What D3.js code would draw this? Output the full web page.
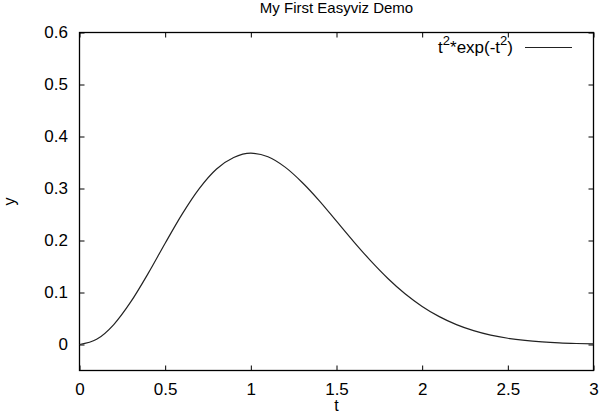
<!DOCTYPE html>
<html>
<head>
<meta charset="utf-8">
<script src="https://cdn.jsdelivr.net/npm/d3@7"></script>
<style>
  body { margin: 0; background: #fff; }
  svg { display: block; }
  text { font-family: "Liberation Sans", Arial, Helvetica, sans-serif; fill: #000; }
</style>
</head>
<body>
<svg id="chart" width="601" height="416"></svg>
<script>
// Data
const tValues = [0, 0.1, 0.2, 0.3, 0.4, 0.5, 0.6, 0.7, 0.8, 0.9, 1.0,
                 1.1, 1.2, 1.3, 1.4, 1.5, 1.6, 1.7, 1.8, 1.9, 2.0,
                 2.1, 2.2, 2.3, 2.4, 2.5, 2.6, 2.7, 2.8, 2.9, 3.0];
const yValues = [0, 0.0099, 0.0384, 0.0823, 0.1363, 0.1947, 0.2512, 0.3002, 0.3375, 0.3595, 0.3679,
                 0.3611, 0.3411, 0.3116, 0.2763, 0.2371, 0.1980, 0.1608, 0.1270, 0.0976, 0.0733,
                 0.0536, 0.0383, 0.0267, 0.0181, 0.0120, 0.0078, 0.0050, 0.0031, 0.0019, 0.0011];
const xTicks = [0, 0.5, 1, 1.5, 2, 2.5, 3];
const xTickLabels = ["0", "0.5", "1", "1.5", "2", "2.5", "3"];
const yTicks = [0, 0.1, 0.2, 0.3, 0.4, 0.5, 0.6];
const yTickLabels = ["0", "0.1", "0.2", "0.3", "0.4", "0.5", "0.6"];
const titleText = "My First Easyviz Demo";
const xLabel = "t";
const yLabel = "y";

const svg = d3.select("#chart");
const mLeft = 79.5, mRight = 593.5, mTop = 32.5, mBottom = 370.5;

const x = d3.scaleLinear().domain([0, 3]).range([mLeft, mRight]);
const y = d3.scaleLinear().domain([-0.05, 0.6]).range([mBottom, mTop]);

const tickLen = 5;
const fs = 17;

// axes (gnuplot style: inward ticks mirrored)
const axB = d3.axisBottom(x).tickValues(xTicks).tickSizeInner(-tickLen).tickSizeOuter(0)
  .tickFormat((d, i) => xTickLabels[i]).tickPadding(12);
const axT = d3.axisTop(x).tickValues(xTicks).tickSizeInner(-tickLen).tickSizeOuter(0).tickFormat("");
const axL = d3.axisLeft(y).tickValues(yTicks).tickSizeInner(-tickLen).tickSizeOuter(0)
  .tickFormat((d, i) => yTickLabels[i]).tickPadding(11.5);
const axR = d3.axisRight(y).tickValues(yTicks).tickSizeInner(-tickLen).tickSizeOuter(0).tickFormat("");

function style(g) {
  g.select(".domain").remove();
  g.selectAll("line").attr("stroke", "#000").attr("stroke-width", 1);
  g.selectAll("text").attr("font-size", fs).attr("font-family", "Liberation Sans, Arial, sans-serif").attr("fill", "#000");
}
svg.append("g").attr("transform", `translate(0,${mBottom})`).call(axB).call(style);
svg.append("g").attr("transform", `translate(0,${mTop})`).call(axT).call(style);
svg.append("g").attr("transform", `translate(${mLeft},0)`).call(axL).call(style);
svg.append("g").attr("transform", `translate(${mRight},0)`).call(axR).call(style);

// frame
svg.append("rect").attr("x", mLeft).attr("y", mTop)
  .attr("width", mRight - mLeft).attr("height", mBottom - mTop)
  .attr("fill", "none").attr("stroke", "#000").attr("stroke-width", 1.3);

// curve
const pts = tValues.map((t, i) => [t, yValues[i]]);
const line = d3.line().x(d => x(d[0])).y(d => y(d[1])).curve(d3.curveMonotoneX);
svg.append("path").datum(pts).attr("d", line)
  .attr("fill", "none").attr("stroke", "#222").attr("stroke-width", 1.2);

// title
svg.append("text").attr("x", (mLeft + mRight) / 2).attr("y", 13)
  .attr("text-anchor", "middle").attr("font-size", 15).text(titleText);

// axis labels
svg.append("text").attr("x", (mLeft + mRight) / 2).attr("y", 411)
  .attr("text-anchor", "middle").attr("font-size", 16).text(xLabel);
svg.append("text").attr("transform", `translate(15,${(mTop + mBottom) / 2}) rotate(-90)`)
  .attr("text-anchor", "middle").attr("font-size", 16).text(yLabel);

// legend
const legY = 52.5;
const leg = svg.append("text").attr("x", 513).attr("y", legY).attr("text-anchor", "end").attr("font-size", fs);
leg.append("tspan").text("t");
leg.append("tspan").attr("font-size", 13).attr("dy", -8).text("2");
leg.append("tspan").attr("dy", 8).text("*exp(-t");
leg.append("tspan").attr("font-size", 13).attr("dy", -8).text("2");
leg.append("tspan").attr("dy", 8).text(")");
svg.append("line").attr("x1", 525).attr("x2", 572).attr("y1", 47.5).attr("y2", 47.5)
  .attr("stroke", "#222").attr("stroke-width", 1.2);
</script>
</body>
</html>
